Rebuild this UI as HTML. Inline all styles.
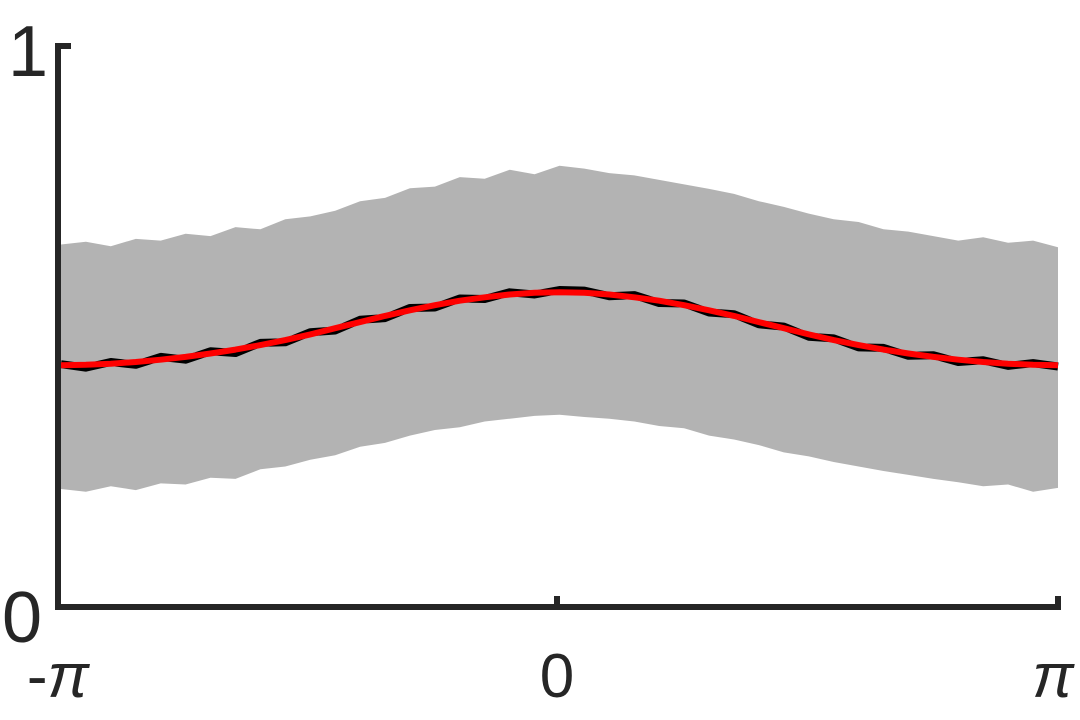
<!DOCTYPE html>
<html><head><meta charset="utf-8"><style>
html,body{margin:0;padding:0;background:#fff;}
svg{display:block;font-family:"Liberation Sans",sans-serif;}
</style></head><body>
<svg id="chart" width="1080" height="720" viewBox="0 0 1080 720" xmlns="http://www.w3.org/2000/svg">
<g id="band"></g>
<g id="lines"></g>
<g stroke="#262626" stroke-width="6" fill="none">
<path d="M71,46 H58 V607 H1058 V596"/>
<line x1="557" y1="607" x2="557" y2="596"/>
</g>
<g fill="#262626">
<text x="28" y="76" font-size="72" text-anchor="middle">1</text>
<text x="22" y="642" font-size="72" text-anchor="middle">0</text>
<text x="58" y="697" font-size="62" text-anchor="middle">-<tspan font-style="italic">π</tspan></text>
<text x="557" y="697" font-size="62" text-anchor="middle">0</text>
<text x="1053" y="697" font-size="62" font-style="italic" text-anchor="middle">π</text>
</g>
</svg>
<script>
const fitValues=[0.430,0.431,0.433,0.436,0.440,0.445,0.451,0.458,0.466,0.475,0.485,0.496,0.507,0.518,0.528,0.537,0.545,0.551,0.556,0.559,0.560,0.559,0.556,0.551,0.545,0.537,0.528,0.518,0.507,0.496,0.485,0.475,0.466,0.458,0.451,0.445,0.440,0.436,0.433,0.431,0.430];
const meanValues=[0.432,0.426,0.436,0.431,0.445,0.440,0.455,0.452,0.470,0.471,0.489,0.492,0.511,0.514,0.532,0.533,0.549,0.548,0.560,0.556,0.564,0.563,0.553,0.555,0.541,0.540,0.524,0.521,0.503,0.499,0.481,0.478,0.462,0.461,0.447,0.448,0.436,0.439,0.429,0.434,0.428];
const upperValues=[0.645,0.650,0.642,0.655,0.652,0.664,0.660,0.676,0.672,0.690,0.695,0.705,0.722,0.728,0.745,0.748,0.765,0.762,0.778,0.770,0.785,0.780,0.772,0.768,0.760,0.752,0.744,0.735,0.722,0.712,0.700,0.690,0.685,0.672,0.668,0.660,0.652,0.658,0.648,0.652,0.640];
const lowerValues=[0.210,0.205,0.215,0.208,0.220,0.218,0.230,0.228,0.245,0.250,0.262,0.270,0.285,0.292,0.305,0.315,0.320,0.330,0.335,0.340,0.342,0.338,0.335,0.330,0.322,0.318,0.305,0.298,0.288,0.275,0.268,0.258,0.250,0.242,0.235,0.228,0.222,0.215,0.218,0.205,0.212];
const xMin=-Math.PI, xMax=Math.PI;
const X0=61, X1=1058, Y0=607, Y1=45;
function xs(v){return X0+(v-xMin)/(xMax-xMin)*(X1-X0);}
function ys(v){return Y0-v*(Y0-Y1);}
function xAt(i,n){return xs(xMin+(xMax-xMin)*i/(n-1));}
const NS='http://www.w3.org/2000/svg';
function linePath(arr){return arr.map((v,i)=>(i?'L':'M')+xAt(i,arr.length).toFixed(1)+','+ys(v).toFixed(1)).join(' ');}
let bd=linePath(upperValues);
for(let i=lowerValues.length-1;i>=0;i--) bd+=' L'+xAt(i,lowerValues.length).toFixed(1)+','+ys(lowerValues[i]).toFixed(1);
bd+=' Z';
const band=document.createElementNS(NS,'path');


band.setAttribute('d',bd);band.setAttribute('fill','#b3b3b3');
document.getElementById('band').appendChild(band);
const mean=document.createElementNS(NS,'path');


mean.setAttribute('d',linePath(meanValues));
mean.setAttribute('stroke','#000');mean.setAttribute('stroke-width','8');mean.setAttribute('fill','none');mean.setAttribute('stroke-linejoin','round');
document.getElementById('lines').appendChild(mean);
const fit=document.createElementNS(NS,'path');


fit.setAttribute('d',linePath(fitValues));
fit.setAttribute('stroke','#ff0000');fit.setAttribute('stroke-width','6');fit.setAttribute('fill','none');fit.setAttribute('stroke-linejoin','round');
document.getElementById('lines').appendChild(fit);
</script>
</body></html>
